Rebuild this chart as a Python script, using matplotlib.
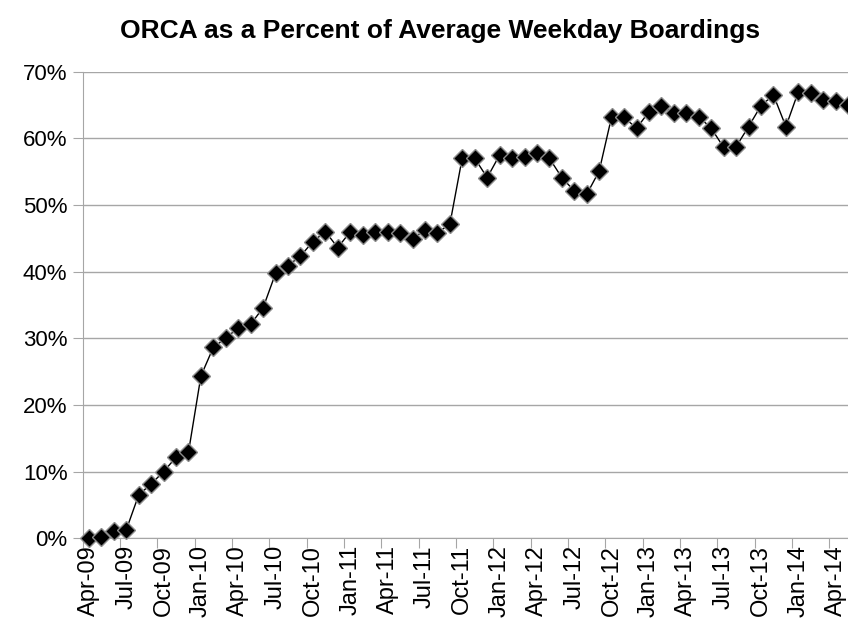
import matplotlib
matplotlib.use("Agg")
import matplotlib.pyplot as plt
from matplotlib.ticker import FuncFormatter, FixedLocator

plt.rcParams["font.family"] = ["Liberation Sans", "DejaVu Sans"]

# monthly share of ORCA in weekday boardings, Apr-09 .. May-14 (percent)
months = ["Apr-09", "May-09", "Jun-09", "Jul-09", "Aug-09", "Sep-09", "Oct-09", "Nov-09",
          "Dec-09", "Jan-10", "Feb-10", "Mar-10", "Apr-10", "May-10", "Jun-10", "Jul-10",
          "Aug-10", "Sep-10", "Oct-10", "Nov-10", "Dec-10", "Jan-11", "Feb-11", "Mar-11",
          "Apr-11", "May-11", "Jun-11", "Jul-11", "Aug-11", "Sep-11", "Oct-11", "Nov-11",
          "Dec-11", "Jan-12", "Feb-12", "Mar-12", "Apr-12", "May-12", "Jun-12", "Jul-12",
          "Aug-12", "Sep-12", "Oct-12", "Nov-12", "Dec-12", "Jan-13", "Feb-13", "Mar-13",
          "Apr-13", "May-13", "Jun-13", "Jul-13", "Aug-13", "Sep-13", "Oct-13", "Nov-13",
          "Dec-13", "Jan-14", "Feb-14", "Mar-14", "Apr-14", "May-14"]
orca_pct = [0.1, 0.2, 1.15, 1.25, 6.5, 8.15, 10.0, 12.15, 12.9, 24.35, 28.65, 30.0,
            31.6, 32.1, 34.6, 39.75, 40.9, 42.35, 44.5, 46.0, 43.6, 46.0, 45.5, 46.0,
            46.0, 45.75, 44.9, 46.25, 45.85, 47.1, 57.1, 57.0, 54.1, 57.5, 57.1, 57.25,
            57.75, 57.0, 54.1, 52.1, 51.6, 55.1, 63.25, 63.15, 61.5, 64.0, 64.85, 63.75,
            63.75, 63.25, 61.5, 58.65, 58.75, 61.75, 64.9, 66.5, 61.75, 67.0, 66.85, 65.75,
            65.65, 65.0]

fig = plt.figure(figsize=(8.48, 6.23), dpi=100)
# plot area runs a few pixels past the right edge, as in the original
ax = fig.add_axes([0.0975, 0.136, 0.91, 0.749])

x = list(range(len(months)))
ax.plot(x, orca_pct, color="black", lw=1.0, marker="D", markersize=9,
        markerfacecolor="black", markeredgecolor="#8c8c8c", markeredgewidth=1.0,
        zorder=3, clip_on=False)

ax.set_xlim(-0.5, len(months) - 0.5)
ax.set_ylim(0, 70)
ax.set_yticks(range(0, 71, 10))
ax.yaxis.set_major_formatter(FuncFormatter(lambda v, _: f"{v:.0f}%"))
ax.grid(axis="y", color="#a6a6a6", lw=1.0)
ax.set_axisbelow(True)

# category ticks between months, labels every third month
ax.xaxis.set_major_locator(FixedLocator([i - 0.5 for i in range(0, len(months) + 1, 3)]))
ax.set_xticklabels([])
ax.xaxis.set_minor_locator(FixedLocator(x[::3]))
ax.set_xticklabels(months[::3], minor=True, rotation=90, fontsize=17)
ax.tick_params(axis="x", which="minor", length=0, pad=5)
ax.tick_params(axis="x", which="major", length=7, color="#a6a6a6")
ax.tick_params(axis="y", length=7, color="#a6a6a6", labelsize=16, pad=4)

for side in ("top", "right"):
    ax.spines[side].set_visible(False)
for side in ("left", "bottom"):
    ax.spines[side].set_color("#a6a6a6")

fig.text(0.519, 0.950, "ORCA as a Percent of Average Weekday Boardings",
         ha="center", va="center", fontsize=19, fontweight="bold")

fig.savefig("out.png", dpi=100)
